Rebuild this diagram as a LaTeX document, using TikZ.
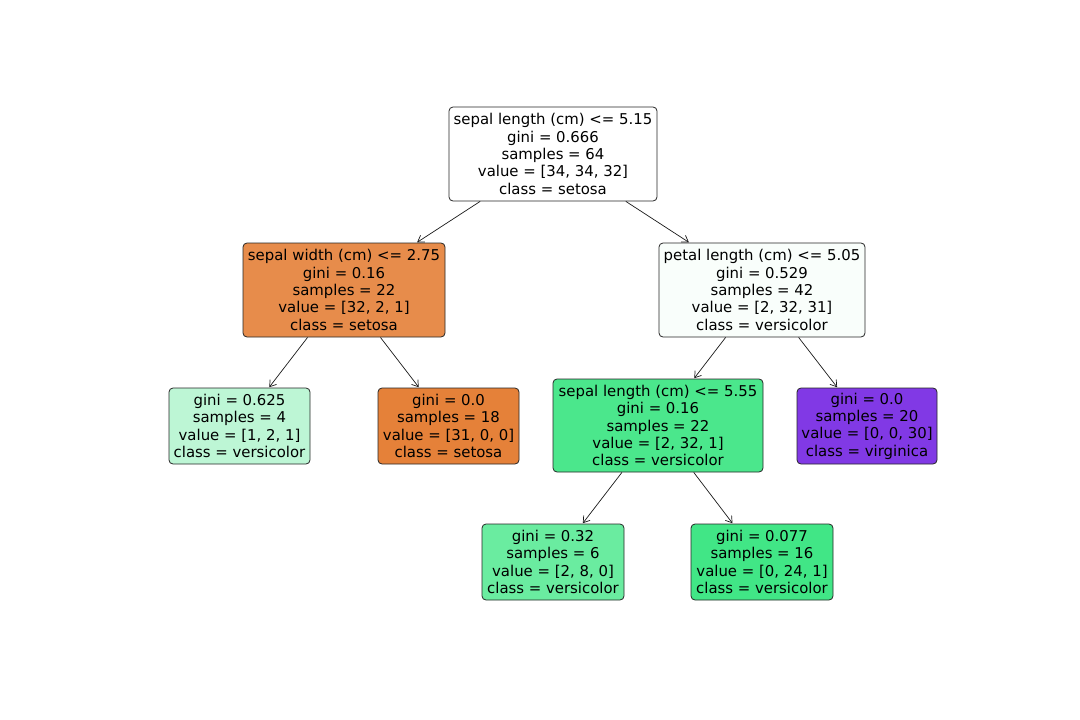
\documentclass[tikz,border=0pt]{standalone}
\usepackage{fontspec}
\setmainfont{DejaVu Sans}
\usetikzlibrary{arrows.meta}
\definecolor{cwhite}{HTML}{FFFFFF}
\definecolor{cl}{HTML}{E78C4B}
\definecolor{cr}{HTML}{F9FEFB}
\definecolor{cll}{HTML}{BDF6D5}
\definecolor{clr}{HTML}{E58139}
\definecolor{crl}{HTML}{4BE78C}
\definecolor{crr}{HTML}{8139E5}
\definecolor{crll}{HTML}{6AECA0}
\definecolor{crlr}{HTML}{41E686}
\begin{document}
\begin{tikzpicture}[x=1pt,y=-1pt,
  box/.style={draw=black!85, line width=0.8pt, rounded corners=4pt, align=center,
    inner sep=0pt, font=\fontsize{14.9}{17.4}\selectfont},
  edge/.style={draw=black!90, line width=0.7pt, -{Straight Barb[length=6pt,width=8pt]}, shorten >=0.5pt}]
\useasboundingbox (0,0) rectangle (1080,720);
\node[box, fill=cwhite, minimum width=208pt, minimum height=94pt] (root) at (553,154)
  {sepal length (cm) <= 5.15\\gini = 0.666\\samples = 64\\value = [34, 34, 32]\\class = setosa};
\node[box, fill=cl, minimum width=202pt, minimum height=94pt] (l) at (344,290)
  {sepal width (cm) <= 2.75\\gini = 0.16\\samples = 22\\value = [32, 2, 1]\\class = setosa};
\node[box, fill=cr, minimum width=206pt, minimum height=94pt] (r) at (762,290)
  {petal length (cm) <= 5.05\\gini = 0.529\\samples = 42\\value = [2, 32, 31]\\class = versicolor};
\node[box, fill=cll, minimum width=141pt, minimum height=76pt] (ll) at (239.5,426)
  {gini = 0.625\\samples = 4\\value = [1, 2, 1]\\class = versicolor};
\node[box, fill=clr, minimum width=141pt, minimum height=76pt] (lr) at (448.5,426)
  {gini = 0.0\\samples = 18\\value = [31, 0, 0]\\class = setosa};
\node[box, fill=crl, minimum width=210pt, minimum height=93pt] (rl) at (658,425.5)
  {sepal length (cm) <= 5.55\\gini = 0.16\\samples = 22\\value = [2, 32, 1]\\class = versicolor};
\node[box, fill=crr, minimum width=140pt, minimum height=76pt] (rr) at (867,426)
  {gini = 0.0\\samples = 20\\value = [0, 0, 30]\\class = virginica};
\node[box, fill=crll, minimum width=142pt, minimum height=76pt] (rll) at (553,562)
  {gini = 0.32\\samples = 6\\value = [2, 8, 0]\\class = versicolor};
\node[box, fill=crlr, minimum width=142pt, minimum height=76pt] (rlr) at (762,562)
  {gini = 0.077\\samples = 16\\value = [0, 24, 1]\\class = versicolor};
\draw[edge] (root) -- (l);
\draw[edge] (root) -- (r);
\draw[edge] (l) -- (ll);
\draw[edge] (l) -- (lr);
\draw[edge] (r) -- (rl);
\draw[edge] (r) -- (rr);
\draw[edge] (rl) -- (rll);
\draw[edge] (rl) -- (rlr);
\end{tikzpicture}
\end{document}
